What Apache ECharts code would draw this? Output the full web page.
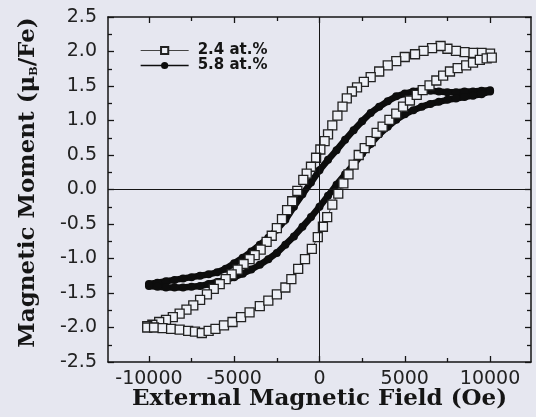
<!DOCTYPE html>
<html>
<head>
<meta charset="utf-8">
<script src="https://cdn.jsdelivr.net/npm/echarts@6/dist/echarts.min.js"></script>
<style>
  html, body { margin: 0; padding: 0; background: #e6e7f0; }
  #chart { width: 536px; height: 417px; }
</style>
</head>
<body>
<div id="chart"></div>
<script>
// ---- data (field in Oe, moment in muB/Fe) ----
const seriesNames = ['2.4 at.%', '5.8 at.%'];

// 2.4 at.% : descending branch (+10 kOe -> -10 kOe)
const sqDownX = [10000, 9500, 9000, 8500, 8000, 7500, 7100, 6600, 6100, 5600,
  5000, 4500, 4000, 3500, 3000, 2600, 2200, 1900, 1600, 1350,
  1050, 750, 500, 300, 50, -200, -500, -750, -950, -1300,
  -1600, -1900, -2200, -2500, -2800, -3100, -3450, -3800, -4100, -4450,
  -4800, -5150, -5500, -5850, -6200, -6600, -7000, -7400, -7800, -8200,
  -8600, -9000, -9400, -9800, -10100];
const sqDownY = [1.97, 1.98, 1.98, 1.99, 2.01, 2.04, 2.08, 2.05, 2.01, 1.96,
  1.92, 1.86, 1.80, 1.71, 1.63, 1.56, 1.48, 1.42, 1.32, 1.20,
  1.07, 0.93, 0.80, 0.70, 0.58, 0.46, 0.33, 0.23, 0.14, -0.02,
  -0.17, -0.30, -0.43, -0.56, -0.67, -0.76, -0.87, -0.95, -1.01, -1.08,
  -1.16, -1.23, -1.30, -1.37, -1.44, -1.52, -1.60, -1.68, -1.74, -1.80,
  -1.85, -1.89, -1.92, -1.96, -1.98];
// 2.4 at.% : ascending branch (-10 kOe -> +10 kOe)
const sqUpX = [-10100, -9700, -9200, -8700, -8200, -7700, -7300, -6900, -6500, -6100,
  -5600, -5100, -4600, -4100, -3500, -3000, -2500, -2000, -1650, -1250,
  -850, -450, -100, 200, 450, 750, 1100, 1400, 1700, 2000,
  2300, 2650, 3000, 3350, 3700, 4100, 4500, 4900, 5300, 5700,
  6050, 6450, 6850, 7250, 7650, 8100, 8600, 9000, 9400, 9800, 10100];
const sqUpY = [-2.00, -2.00, -2.01, -2.02, -2.03, -2.05, -2.06, -2.08, -2.05, -2.02,
  -1.97, -1.92, -1.85, -1.78, -1.69, -1.61, -1.52, -1.42, -1.30, -1.15,
  -1.01, -0.86, -0.69, -0.54, -0.40, -0.22, -0.06, 0.09, 0.22, 0.36,
  0.50, 0.60, 0.70, 0.82, 0.91, 1.01, 1.10, 1.20, 1.29, 1.37,
  1.44, 1.51, 1.58, 1.65, 1.71, 1.76, 1.80, 1.84, 1.88, 1.90, 1.91];

// 5.8 at.% : descending branch
const ciDownX = [10000, 9500, 9000, 8500, 8000, 7500, 7000, 6500, 6000, 5500,
  5000, 4500, 4000, 3500, 3000, 2500, 2000, 1500, 1000, 500,
  0, -500, -1000, -1500, -2000, -2500, -3000, -3500, -4000, -4500,
  -5000, -5500, -6000, -6500, -7000, -7500, -8000, -8500, -9000, -9500, -10000];
const ciDownY = [1.44, 1.43, 1.42, 1.42, 1.41, 1.41, 1.42, 1.43, 1.44, 1.42,
  1.39, 1.35, 1.28, 1.20, 1.11, 0.99, 0.86, 0.72, 0.57, 0.43,
  0.28, 0.10, -0.07, -0.25, -0.44, -0.58, -0.70, -0.80, -0.90, -0.99,
  -1.07, -1.15, -1.20, -1.23, -1.25, -1.27, -1.29, -1.31, -1.33, -1.35, -1.37];
// 5.8 at.% : ascending branch
const ciUpX = [-10000, -9500, -9000, -8500, -8000, -7500, -7000, -6500, -6000, -5500,
  -5000, -4500, -4000, -3500, -3000, -2500, -2000, -1500, -1000, -500,
  0, 500, 1000, 1500, 2000, 2500, 3000, 3500, 4000, 4500,
  5000, 5500, 6000, 6500, 7000, 7500, 8000, 8500, 9000, 9500, 10000];
const ciUpY = [-1.40, -1.41, -1.42, -1.42, -1.42, -1.41, -1.40, -1.37, -1.34, -1.31,
  -1.27, -1.22, -1.16, -1.09, -1.01, -0.92, -0.80, -0.68, -0.54, -0.40,
  -0.25, -0.09, 0.07, 0.22, 0.36, 0.52, 0.66, 0.80, 0.91, 1.01,
  1.09, 1.15, 1.20, 1.24, 1.27, 1.30, 1.32, 1.34, 1.36, 1.38, 1.42];

const xMajorTicks = [-10000, -5000, 0, 5000, 10000];
const xMinorTicks = [-7500, -2500, 2500, 7500];

// ---- build ----
function pairs(xs, ys) { return xs.map((x, i) => [x, ys[i]]); }
const squareData = pairs(sqDownX, sqDownY).concat(pairs(sqUpX, sqUpY));
const circleData = pairs(ciDownX, ciDownY).concat(pairs(ciUpX, ciUpY));

const ink = '#151515';
const sans = 'DejaVu Sans, Arial, sans-serif';
const serif = 'DejaVu Serif, serif';

function xAx(pos, ticks, len, showLine, labels) {
  return {
    type: 'value', min: -12400, max: 12400, position: pos, gridIndex: 0,
    axisLine: { show: showLine, onZero: false, lineStyle: { color: ink, width: 1.5 } },
    axisTick: { show: true, inside: true, length: len, customValues: ticks, lineStyle: { color: ink, width: 1.3 } },
    axisLabel: labels ? { show: true, customValues: ticks, color: '#222', fontSize: 19, fontFamily: sans, margin: 8,
      formatter: v => String(v) } : { show: false },
    splitLine: { show: false }
  };
}
function yAx(pos, labels) {
  return {
    type: 'value', min: -2.5, max: 2.5, interval: 0.5, position: pos,
    axisLine: { show: true, onZero: false, lineStyle: { color: ink, width: 1.5 } },
    axisTick: { show: true, inside: true, length: 6, lineStyle: { color: ink, width: 1.3 } },
    minorTick: { show: true, splitNumber: 2, length: 4, lineStyle: { color: ink, width: 1.3 } },
    axisLabel: labels ? { show: true, color: '#222', fontSize: 19, fontFamily: sans, margin: 11,
      formatter: v => v.toFixed(1) } : { show: false },
    splitLine: { show: false }, minorSplitLine: { show: false }
  };
}

const xAxes = [
  xAx('bottom', xMajorTicks, 6, true, true),
  xAx('bottom', xMinorTicks, 4, false, false),
  xAx('top', xMajorTicks, 6, true, false),
  xAx('top', xMinorTicks, 4, false, false)
];
xAxes[0].name = 'External Magnetic Field (Oe)';
xAxes[0].nameLocation = 'middle';
xAxes[0].nameGap = 26;
xAxes[0].nameMoveOverlap = false;
xAxes[0].nameTextStyle = { fontFamily: serif, fontWeight: 'bold', fontSize: 23, color: ink };

const yAxes = [yAx('left', true), yAx('right', false)];
yAxes[0].name = 'Magnetic Moment (μ{sub|B}/Fe)';
yAxes[0].nameLocation = 'middle';
yAxes[0].nameGap = 68;
yAxes[0].nameMoveOverlap = false;
yAxes[0].nameTextStyle = {
  fontFamily: serif, fontWeight: 'bold', fontSize: 23, color: ink,
  padding: [0, 0, 0, 14],
  rich: { sub: { fontFamily: serif, fontWeight: 'bold', fontSize: 11, color: ink, padding: [13, 0, 0, 0] } }
};

const chart = echarts.init(document.getElementById('chart'), null, { renderer: 'canvas' });
chart.setOption({
  backgroundColor: '#e6e7f0',
  animation: false,
  grid: { left: 108, right: 5, top: 17, bottom: 55, containLabel: false, outerBoundsMode: 'none' },
  legend: {
    orient: 'vertical', left: 140, top: 43, padding: 0, itemWidth: 48, itemHeight: 9, itemGap: 0,
    textStyle: { fontFamily: sans, fontWeight: 'bold', fontSize: 15, color: ink, lineHeight: 14, padding: [0, 0, 0, 4] },
    data: [
      { name: seriesNames[0], lineStyle: { width: 1.2 } },
      { name: seriesNames[1], lineStyle: { width: 1.3 } }
    ]
  },
  xAxis: xAxes,
  yAxis: yAxes,
  series: [
    {
      name: seriesNames[1], type: 'line', data: circleData, xAxisIndex: 0, yAxisIndex: 0,
      symbol: 'circle', symbolSize: 8, showSymbol: true,
      lineStyle: { color: '#0d0d0d', width: 6.5 },
      itemStyle: { color: '#0d0d0d', borderWidth: 0 },
      z: 2,
      markLine: {
        silent: true, symbol: 'none', label: { show: false },
        lineStyle: { color: ink, width: 1, type: 'solid' },
        data: [{ xAxis: 0 }, { yAxis: 0 }]
      }
    },
    {
      name: seriesNames[0], type: 'line', data: squareData, xAxisIndex: 0, yAxisIndex: 0,
      symbol: 'rect', symbolSize: 9, showSymbol: true,
      lineStyle: { color: '#444', width: 1 },
      itemStyle: { color: '#eef0f6', borderColor: '#222', borderWidth: 1.3 },
      z: 3
    }
  ]
});
</script>
</body>
</html>
